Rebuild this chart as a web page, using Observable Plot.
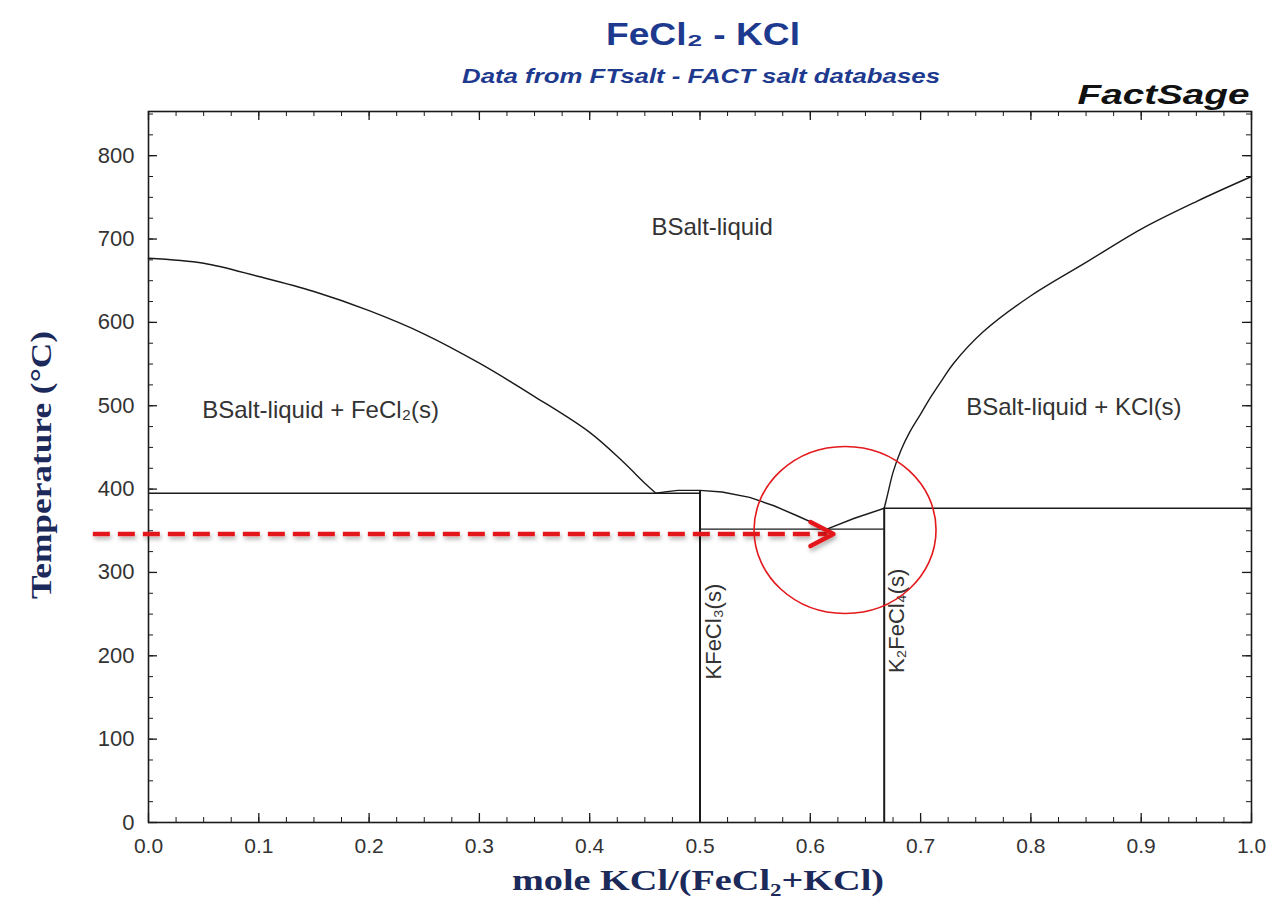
<!DOCTYPE html>
<html>
<head>
<meta charset="utf-8">
<script src="https://cdn.jsdelivr.net/npm/d3@7"></script>
<script src="https://cdn.jsdelivr.net/npm/@observablehq/plot@0.6"></script>
<style>
  html, body { margin: 0; padding: 0; background: #fff; }
  #chart svg { display: block; }
</style>
</head>
<body>
<div id="chart"></div>
<script>
// ---------- data ----------
const titleText = "FeCl\u2082 - KCl";
const subtitleText = "Data from FTsalt - FACT salt databases";
const brandText = "FactSage";
const xLabel = "mole KCl/(FeCl\u2082+KCl)";
const yLabel = "Temperature (\u00B0C)";

const xTicks = [0, 0.1, 0.2, 0.3, 0.4, 0.5, 0.6, 0.7, 0.8, 0.9, 1.0];
const yTicks = [0, 100, 200, 300, 400, 500, 600, 700, 800];
const xMinorTicks = d3.range(0, 1.0001, 0.025);
const yMinorTicks = d3.range(0, 851, 25);

// FeCl2 liquidus
const feCl2LiqX = [0, 0.05, 0.1, 0.15, 0.2, 0.25, 0.3, 0.35, 0.4, 0.43, 0.45, 0.46];
const feCl2LiqT = [677, 671, 655, 637, 614, 586, 551, 511, 468, 433, 407, 395];
// KFeCl3 liquidus
const kFeCl3LiqX = [0.46, 0.47, 0.48, 0.50, 0.52, 0.545, 0.567, 0.588, 0.615];
const kFeCl3LiqT = [395, 397, 398.5, 398.5, 396.5, 390, 380, 368, 352];
// K2FeCl4 liquidus
const k2FeCl4LiqX = [0.615, 0.64, 0.667];
const k2FeCl4LiqT = [352, 365, 377];
// KCl liquidus
const kclLiqX = [0.667, 0.670, 0.675, 0.682, 0.690, 0.700, 0.710, 0.720, 0.730, 0.757, 0.8, 0.85, 0.9, 0.95, 1.0];
const kclLiqT = [377, 393, 420, 446, 468, 490, 512, 532, 551, 589, 632, 672, 712, 745, 775];

// invariant (horizontal) lines
const invX1 = [0, 0.5, 0.667];
const invX2 = [0.5, 0.667, 1.0];
const invT  = [395, 352, 377];

// compound (vertical) lines
const compX = [0.5, 0.667];
const compTop = [398, 377];

// phase region labels
const phaseNames = ["BSalt-liquid", "BSalt-liquid + FeCl\u2082(s)", "BSalt-liquid + KCl(s)"];
const phaseX = [0.511, 0.156, 0.839];
const phaseT = [714, 494, 498];

const compoundNames = ["KFeCl\u2083(s)", "K\u2082FeCl\u2084(s)"];
const compoundLabelX = [0.513, 0.679];
const compoundLabelT = [229, 242];

// red annotation
const arrowStartX = -0.05;
const arrowEndX = 0.616;
const arrowTipX = 0.621;
const arrowT = 346;
const circleX = [0.6315];
const circleT = [351];

// ---------- helpers ----------
const zip = (xs, ts) => xs.map((x, i) => ({x, t: ts[i]}));
const W = 1284, H = 912, mL = 148, mR = 33, mT = 111, mB = 90;
const plotW = W - mL - mR, plotH = H - mT - mB;

const blue = "#1e3a8f";
const navy = "#1b2a5a";
const lineCol = "#1a1a1a";
const red = "#e3191c";

const ellipseSymbol = (rx, ry) => ({
  draw(ctx) {
    const k = 0.5523;
    ctx.moveTo(rx, 0);
    ctx.bezierCurveTo(rx, ry * k, rx * k, ry, 0, ry);
    ctx.bezierCurveTo(-rx * k, ry, -rx, ry * k, -rx, 0);
    ctx.bezierCurveTo(-rx, -ry * k, -rx * k, -ry, 0, -ry);
    ctx.bezierCurveTo(rx * k, -ry, rx, -ry * k, rx, 0);
    ctx.closePath();
  }
});
const chevronSymbol = (depth, half) => ({
  draw(ctx) {
    ctx.moveTo(-depth, -half);
    ctx.lineTo(0, 0);
    ctx.lineTo(-depth, half);
  }
});

const invariants = invX1.map((x1, i) => ({x1, x2: invX2[i], t: invT[i]}));
const compounds = compX.map((x, i) => ({x, top: compTop[i]}));
const phases = phaseNames.map((label, i) => ({label, x: phaseX[i], t: phaseT[i]}));
const compLabels = compoundNames.map((label, i) => ({label, x: compoundLabelX[i], t: compoundLabelT[i]}));

const sans = "Liberation Sans, Arial, Helvetica, sans-serif";
const serif = "Liberation Serif, Times New Roman, serif";

const chart = Plot.plot({
  width: W,
  height: H,
  marginLeft: mL,
  marginRight: mR,
  marginTop: mT,
  marginBottom: mB,
  style: {fontFamily: sans, background: "#fff"},
  x: {domain: [0, 1], label: null},
  y: {domain: [0, 853], label: null},
  marks: [
    // tick labels
    Plot.axisX(xTicks, {anchor: "bottom", tickSize: 0, tickPadding: 16, tickFormat: d3.format(".1f"),
      fontSize: 21, fill: "#333", label: null, fontFamily: sans}),
    Plot.axisY(yTicks, {anchor: "left", tickSize: 0, tickPadding: 14, tickFormat: d3.format("d"),
      fontSize: 22, fill: "#333", label: null, fontFamily: sans}),
    // inward ticks, all four sides
    Plot.tickX(xMinorTicks, {x: d => d, insetTop: plotH - 5, stroke: lineCol, strokeWidth: 1}),
    Plot.tickX(xTicks, {x: d => d, insetTop: plotH - 9, stroke: lineCol, strokeWidth: 1.3}),
    Plot.tickX(xMinorTicks, {x: d => d, insetBottom: plotH - 5, stroke: lineCol, strokeWidth: 1}),
    Plot.tickX(xTicks, {x: d => d, insetBottom: plotH - 9, stroke: lineCol, strokeWidth: 1.3}),
    Plot.tickY(yMinorTicks, {y: d => d, insetRight: plotW - 5, stroke: lineCol, strokeWidth: 1}),
    Plot.tickY(yTicks, {y: d => d, insetRight: plotW - 9, stroke: lineCol, strokeWidth: 1.3}),
    Plot.tickY(yMinorTicks, {y: d => d, insetLeft: plotW - 5, stroke: lineCol, strokeWidth: 1}),
    Plot.tickY(yTicks, {y: d => d, insetLeft: plotW - 9, stroke: lineCol, strokeWidth: 1.3}),
    Plot.frame({stroke: lineCol, strokeWidth: 1.6}),

    // phase boundaries
    Plot.line(zip(feCl2LiqX, feCl2LiqT), {x: "x", y: "t", stroke: lineCol, strokeWidth: 1.4, curve: "catmull-rom"}),
    Plot.line(zip(kFeCl3LiqX, kFeCl3LiqT), {x: "x", y: "t", stroke: lineCol, strokeWidth: 1.4}),
    Plot.line(zip(k2FeCl4LiqX, k2FeCl4LiqT), {x: "x", y: "t", stroke: lineCol, strokeWidth: 1.4}),
    Plot.line(zip(kclLiqX, kclLiqT), {x: "x", y: "t", stroke: lineCol, strokeWidth: 1.4, curve: "catmull-rom"}),
    Plot.ruleY(invariants, {y: "t", x1: "x1", x2: "x2", stroke: lineCol, strokeWidth: 1.4}),
    Plot.ruleX(compounds, {x: "x", y1: 0, y2: "top", stroke: lineCol, strokeWidth: 2}),

    // labels
    Plot.text(phases, {x: "x", y: "t", text: "label", fontSize: 24, fill: "#333", fontFamily: sans}),
    Plot.text(compLabels, {x: "x", y: "t", text: "label", rotate: -90, fontSize: 22, fill: "#333", fontFamily: sans}),

    // red annotation
    Plot.ruleY([arrowT], {x1: arrowStartX, x2: arrowEndX, stroke: red, strokeWidth: 4.5,
      strokeDasharray: "17,8", className: "red-dash"}),
    Plot.dot([{x: arrowTipX, t: arrowT}], {x: "x", y: "t", symbol: chevronSymbol(23, 12), fill: "none",
      stroke: red, strokeWidth: 4.5, strokeLinecap: "round", strokeLinejoin: "round", className: "red-head"}),
    Plot.dot(zip(circleX, circleT), {x: "x", y: "t", symbol: ellipseSymbol(91, 83.5), fill: "none",
      stroke: red, strokeWidth: 1.6}),

    // titles & axis labels
    Plot.text([titleText], {frameAnchor: "top", dx: 3, dy: -89, fontSize: 31, fontWeight: "bold",
      fill: blue, fontFamily: sans, className: "t-title"}),
    Plot.text([subtitleText], {frameAnchor: "top", dx: 1, dy: -43, fontSize: 20, fontWeight: "bold",
      fontStyle: "italic", fill: blue, fontFamily: sans, className: "t-subtitle"}),
    Plot.text([brandText], {frameAnchor: "top-right", textAnchor: "end", dx: -2, dy: -27, fontSize: 27,
      fontWeight: "bold", fontStyle: "italic", fill: "#111", fontFamily: sans, className: "t-brand"}),
    Plot.text([yLabel], {frameAnchor: "left", textAnchor: "middle", rotate: -90, dx: -107, dy: -2, fontSize: 29,
      fontWeight: "bold", fill: navy, fontFamily: serif, className: "t-ylabel"}),
    Plot.text([xLabel], {frameAnchor: "bottom", dx: -2, dy: 67, fontSize: 29,
      fontWeight: "bold", fill: navy, fontFamily: serif, className: "t-xlabel"})
  ]
});

// stretch a few texts horizontally to match the reference's wide lettering
const svg = d3.select(chart);
const stretch = (cls, len) => svg.selectAll(`.${cls} text, text.${cls}`)
  .attr("textLength", len).attr("lengthAdjust", "spacingAndGlyphs");
stretch("t-title", 194);
stretch("t-subtitle", 478);
stretch("t-brand", 172);
stretch("t-ylabel", 268);
stretch("t-xlabel", 372);

// soft drop shadow under the red arrow, as in the reference
const defs = svg.append("defs");
defs.append("filter").attr("id", "redShadow").attr("filterUnits", "userSpaceOnUse")
  .attr("x", 0).attr("y", 0).attr("width", W).attr("height", H)
  .append("feDropShadow").attr("dx", 1.5).attr("dy", 3).attr("stdDeviation", 2)
  .attr("flood-color", "#000").attr("flood-opacity", 0.3);
svg.selectAll(".red-dash, .red-head").attr("filter", "url(#redShadow)");

document.getElementById("chart").appendChild(chart);
</script>
</body>
</html>
